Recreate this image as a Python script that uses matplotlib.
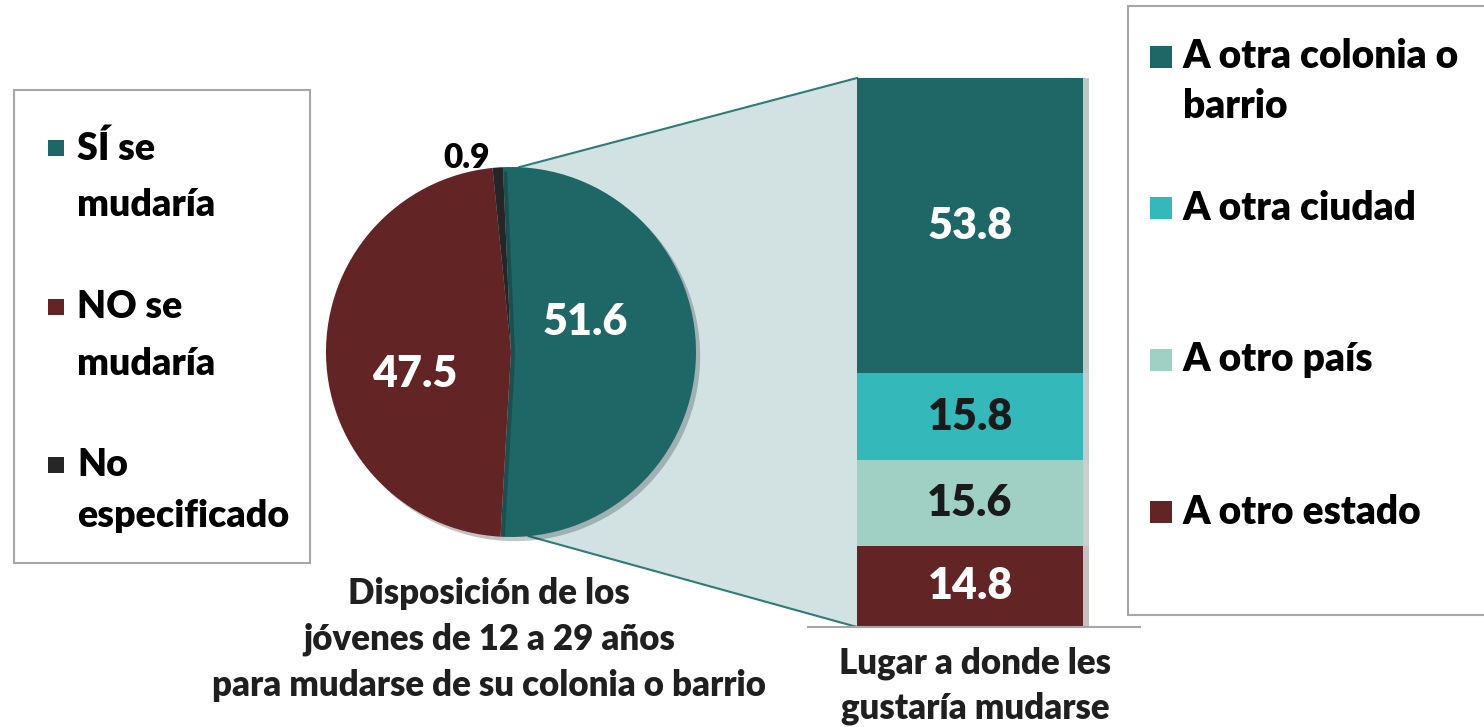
import matplotlib
matplotlib.use("Agg")
import matplotlib.pyplot as plt
from matplotlib.patches import Polygon, Rectangle
import matplotlib.patheffects as pe
import numpy as np

plt.rcParams['font.family'] = ['Lato', 'DejaVu Sans']
plt.rcParams['font.weight'] = 'heavy'

# pie: disposicion para mudarse
pie_labels = ['SÍ se mudaría', 'NO se mudaría', 'No especificado']
pie_values = [51.6, 47.5, 0.9]
pie_colors = ['#1F6766', '#622424', '#262626']

# barra: lugar a donde les gustaria mudarse (de abajo hacia arriba)
bar_labels = ['A otro estado', 'A otro país', 'A otra ciudad', 'A otra colonia o barrio']
bar_values = [14.8, 15.6, 15.8, 53.8]
bar_colors = ['#622424', '#A0CFC3', '#35B8BA', '#1F6766']
bar_text_colors = ['white', '#1A1A1A', '#1A1A1A', 'white']

W, H = 1484, 727
fig = plt.figure(figsize=(W / 100, H / 100), dpi=100)

# background axes in pixel units (y down)
bg = fig.add_axes([0, 0, 1, 1])
bg.set_xlim(0, W)
bg.set_ylim(H, 0)
bg.axis('off')

# pie axes
cx, cy, r = 511, 352, 185
pie_ax = fig.add_axes([(cx - r) / W, (H - cy - r) / H, 2 * r / W, 2 * r / H])
shadow = [pe.SimplePatchShadow(offset=(3, -3), alpha=0.25), pe.Normal()]
wedges, _ = pie_ax.pie(pie_values, colors=pie_colors, startangle=92.5,
                       counterclock=False, radius=1,
                       wedgeprops=dict(linewidth=0))
for w in wedges:
    w.set_path_effects(shadow)
pie_ax.set_xlim(-1, 1)
pie_ax.set_ylim(-1, 1)
pie_ax.text(0.40, 0.16, '51.6', color='white', fontsize=31, ha='center', va='center')
pie_ax.text(-0.52, -0.12, '47.5', color='white', fontsize=31, ha='center', va='center')
pie_ax.text(-0.24, 1.05, '0.9', color='black', fontsize=24, ha='center', va='center')

# bar axes
bx0, bx1, btop, bbot = 857, 1083, 78, 627
ln0, ln1 = 808, 1140
bw = bx1 - bx0
bar_ax = fig.add_axes([ln0 / W, (H - bbot) / H, (ln1 - ln0) / W, (bbot - btop) / H])
bar_ax.set_xlim(-0.5 - (bx0 - ln0) / bw, 0.5 + (ln1 - bx1) / bw)
bar_ax.set_ylim(0, 100)
bottoms = np.concatenate([[0], np.cumsum(bar_values)[:-1]])
bars = bar_ax.bar(0, bar_values, bottom=bottoms, width=1, color=bar_colors, linewidth=0)
for b in bars:
    b.set_path_effects([pe.SimplePatchShadow(offset=(4, 0), alpha=0.25), pe.Normal()])
for v, b0, tc in zip(bar_values, bottoms, bar_text_colors):
    bar_ax.text(0, b0 + v / 2, f'{v:.1f}', color=tc, fontsize=31, ha='center', va='center')
bar_ax.set_xticks([])
bar_ax.set_yticks([])
for s in ['top', 'left', 'right']:
    bar_ax.spines[s].set_visible(False)
bar_ax.spines['bottom'].set_color('#A6A6A6')
bar_ax.spines['bottom'].set_linewidth(1.5)
bar_ax.patch.set_alpha(0)

# connector from pie to bar
to_bg = bg.transData.inverted()
def pie_pt(deg):
    a = np.deg2rad(deg)
    return to_bg.transform(pie_ax.transData.transform((np.cos(a), np.sin(a))))
p_top = pie_pt(87.5)
p_bot = pie_pt(-84.5)
b_top = to_bg.transform(bar_ax.transData.transform((-0.5, 100)))
b_bot = to_bg.transform(bar_ax.transData.transform((-0.5, 0)))
bg.add_patch(Polygon([p_top, b_top, b_bot, p_bot], closed=True,
                     facecolor='#D2E2E2', edgecolor='none'))
bg.plot([p_top[0], b_top[0]], [p_top[1], b_top[1]], color='#2E7B78', lw=1.5)
bg.plot([p_bot[0], b_bot[0]], [p_bot[1], b_bot[1]], color='#2E7B78', lw=1.5)

# captions
cap_color = '#1F1F1F'
for y, t in zip([593, 639, 685], ['Disposición de los', 'jóvenes de 12 a 29 años',
                                  'para mudarse de su colonia o barrio']):
    bg.text(489, y, t, fontsize=25, color=cap_color, ha='center', va='center')
for y, t in zip([663, 708], ['Lugar a donde les', 'gustaría mudarse']):
    bg.text(975, y, t, fontsize=25, color=cap_color, ha='center', va='center')

# left legend
bg.add_patch(Rectangle((14, 90), 296, 473, facecolor='white', edgecolor='#A6A6A6', lw=1.5))
left_entries = [(pie_colors[0], ['SÍ se', 'mudaría'], [148, 205]),
                (pie_colors[1], ['NO se', 'mudaría'], [307, 364]),
                (pie_colors[2], ['No', 'especificado'], [465, 516])]
for col, lines, ys in left_entries:
    bg.add_patch(Rectangle((48, ys[0] - 8), 16, 16, facecolor=col, edgecolor='none'))
    for t, y in zip(lines, ys):
        bg.text(77, y, t, fontsize=27, color='black', ha='left', va='center')

# right legend
bg.add_patch(Rectangle((1128, 6), 370, 609, facecolor='white', edgecolor='#A6A6A6',
                       lw=1.5, clip_on=False))
right_entries = [(bar_colors[3], ['A otra colonia o', 'barrio'], [57, 107]),
                 (bar_colors[2], ['A otra ciudad'], [208]),
                 (bar_colors[1], ['A otro país'], [360]),
                 (bar_colors[0], ['A otro estado'], [512])]
for col, lines, ys in right_entries:
    bg.add_patch(Rectangle((1150, ys[0] - 11), 22, 22, facecolor=col, edgecolor='none'))
    for t, y in zip(lines, ys):
        bg.text(1183, y, t, fontsize=28, color='black', ha='left', va='center')

fig.savefig('out.png', dpi=100)
